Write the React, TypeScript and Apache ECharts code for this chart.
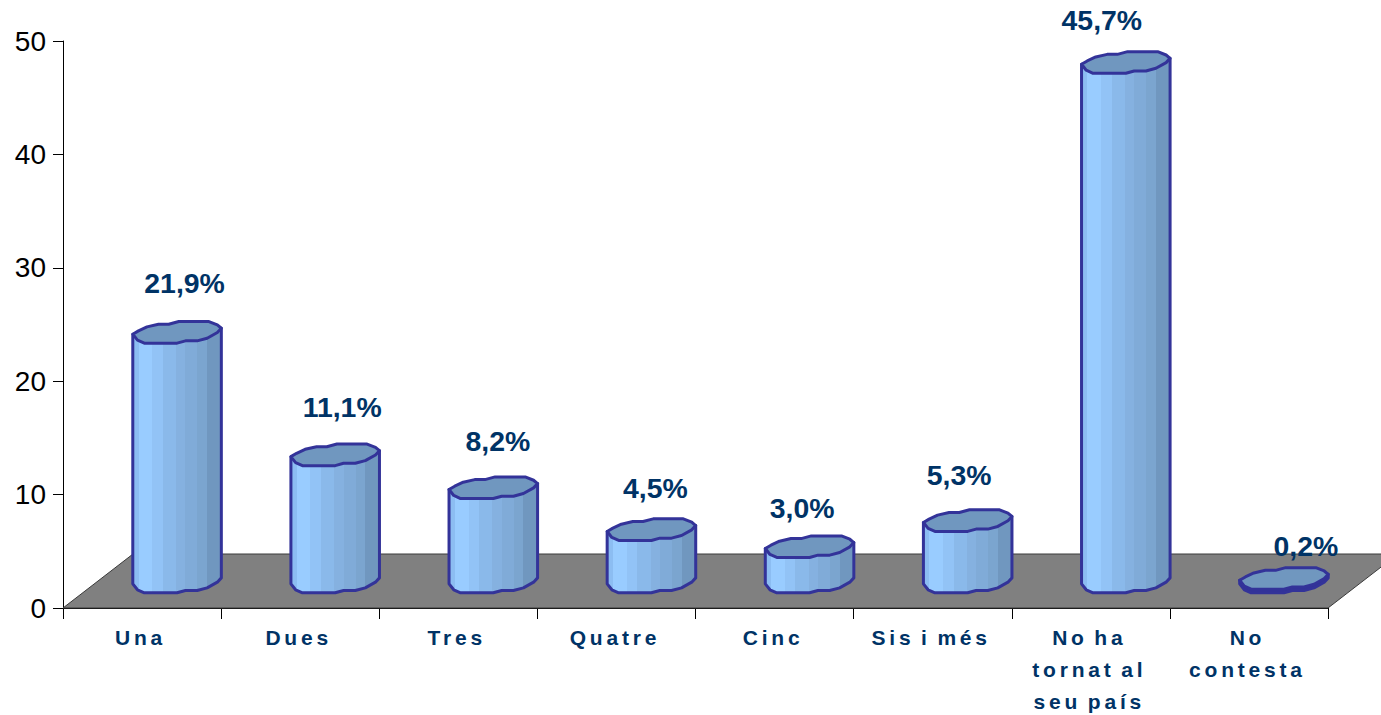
import React, { useEffect, useRef } from "react";
import * as echarts from "echarts";

const categories = ["Una", "Dues", "Tres", "Quatre", "Cinc", "Sis i més", "No ha\ntornat al\nseu país", "No\ncontesta"];
const values = [21.9, 11.1, 8.2, 4.5, 3.0, 5.3, 45.7, 0.2];
const valueLabels = ["21,9%", "11,1%", "8,2%", "4,5%", "3,0%", "5,3%", "45,7%", "0,2%"];
const yTicks = { min: 0, max: 50, interval: 10 };

// Hand-placed data label offsets, relative to each cylinder's top centre.
const labelOffsets = [[7.5, -49], [7, -48], [4.5, -47], [4, -42], [-7.5, -39], [-8.5, -46], [-24, -42], [22, -32]];

// Wobbly cap outline of a cylinder: u across the width 0..1, v across the cap height -1..1.
const capOutline = [
  [0, 0.17], [0.064, -0.14], [0.16, -0.51], [0.29, -0.75], [0.405, -0.75], [0.52, -1], [0.86, -1],
  [0.955, -0.69], [1, -0.38], [0.955, 0.015], [0.84, 0.54], [0.727, 0.785], [0.595, 0.785], [0.5, 1],
  [0.13, 1], [0.053, 0.72],
];
const frontFromRight = capOutline.slice(8);

const bandStops = [
  [0, "#8cbdf2"], [0.065, "#8cbdf2"], [0.065, "#99ccff"], [0.22, "#99ccff"], [0.22, "#92c3f6"], [0.34, "#92c3f6"],
  [0.34, "#8ab9ea"], [0.49, "#8ab9ea"], [0.49, "#85b1e0"], [0.595, "#85b1e0"], [0.595, "#80abd8"], [0.73, "#80abd8"],
  [0.73, "#7ba5cf"], [0.84, "#7ba5cf"], [0.84, "#7097bf"], [1, "#7097bf"],
];

const BORDER = "#333399";
const DEPTH_X = 70;
const DEPTH_Y = 54;
const BAR_RATIO = 0.56;
const CAP_HALF = 10.8;

const renderFloor = (params: any) => {
  const c = params.coordSys;
  const yb = c.y + c.height;
  return {
    type: "polygon",
    silent: true,
    shape: {
      points: [
        [c.x, yb],
        [c.x + DEPTH_X, yb - DEPTH_Y],
        [c.x + c.width + DEPTH_X, yb - DEPTH_Y],
        [c.x + c.width, yb],
      ],
    },
    style: { fill: "#808080", stroke: "#3a3a3a", lineWidth: 1 },
  };
};

const renderCylinder = (params: any, api: any) => {
  const i = api.value(0);
  const v = api.value(1);
  const pt = api.coord([i, v]);
  const base = api.coord([i, 0]);
  const w = api.size([1, 0])[0] * BAR_RATIO;
  const cx = pt[0] + DEPTH_X / 2;
  const left = cx - w / 2;
  const topY = pt[1] - DEPTH_Y / 2 - 0.3;
  const baseY = base[1] - DEPTH_Y / 2 + 1;
  const at = (p: number[], y: number) => [left + p[0] * w, y + p[1] * CAP_HALF];
  const capPts = capOutline.map((p) => at(p, topY));
  const bodyPts = [
    at(capOutline[0], topY),
    at(capOutline[8], topY),
    ...frontFromRight.map((p) => at(p, baseY)),
    at(capOutline[0], baseY),
  ];
  const off = labelOffsets[i];
  const isSliver = baseY - topY < 8;
  return {
    type: "group",
    silent: true,
    children: [
      {
        type: "polygon",
        shape: { points: bodyPts },
        style: {
          fill: isSliver
            ? BORDER
            : new echarts.graphic.LinearGradient(
                0, 0, 1, 0,
                bandStops.map(([offset, color]) => ({ offset: offset as number, color: color as string }))
              ),
          stroke: BORDER,
          lineWidth: 3,
          lineJoin: "round",
        },
      },
      {
        type: "polygon",
        shape: { points: capPts },
        style: { fill: "#7097bf", stroke: BORDER, lineWidth: 3, lineJoin: "round" },
      },
      {
        type: "text",
        x: cx + off[0],
        y: topY + off[1],
        style: {
          text: valueLabels[i],
          fill: "#003366",
          font: 'bold 28.4px "Liberation Sans"',
          textAlign: "center",
          textVerticalAlign: "middle",
        },
      },
    ],
  };
};

export default function App() {
  const ref = useRef<HTMLDivElement>(null);
  useEffect(() => {
    const chart = echarts.init(ref.current!, undefined, { renderer: "svg" });
    chart.setOption({
      animation: false,
      backgroundColor: "#ffffff",
      grid: { left: 63, top: 41, width: 1265, height: 567, outerBoundsMode: "none" },
      xAxis: {
        type: "category",
        data: categories,
        axisLine: { lineStyle: { color: "#000000", width: 1 } },
        axisTick: { show: true, length: 11, alignWithLabel: false, lineStyle: { color: "#000000" } },
        axisLabel: {
          interval: 0,
          color: "#003366",
          fontFamily: "Liberation Sans",
          fontWeight: "bold",
          fontSize: 21,
          lineHeight: 32,
          margin: 13,
          padding: [0, 3, 0, 0],
        },
      },
      yAxis: {
        type: "value",
        min: yTicks.min,
        max: yTicks.max,
        interval: yTicks.interval,
        splitLine: { show: false },
        axisLine: { show: true, lineStyle: { color: "#000000", width: 1 } },
        axisTick: { show: true, length: 10, lineStyle: { color: "#000000" } },
        axisLabel: { color: "#000000", fontFamily: "Liberation Sans", fontSize: 28, margin: 17 },
      },
      series: [
        { type: "custom", data: [[0, 0]], renderItem: renderFloor, silent: true, z: 1 },
        { type: "custom", data: values.map((v, i) => [i, v]), encode: { x: 0, y: 1 }, renderItem: renderCylinder, silent: true, z: 5 },
      ],
    });
    return () => chart.dispose();
  }, []);
  return (
    <>
      <style>{`html,body{margin:0;padding:0;background:#fff;overflow:hidden} svg text[style*="21px"]{letter-spacing:3.8px;word-spacing:-3px}`}</style>
      <div ref={ref} style={{ position: "absolute", left: 0, top: 0, width: 1381, height: 715 }} />
    </>
  );
}
